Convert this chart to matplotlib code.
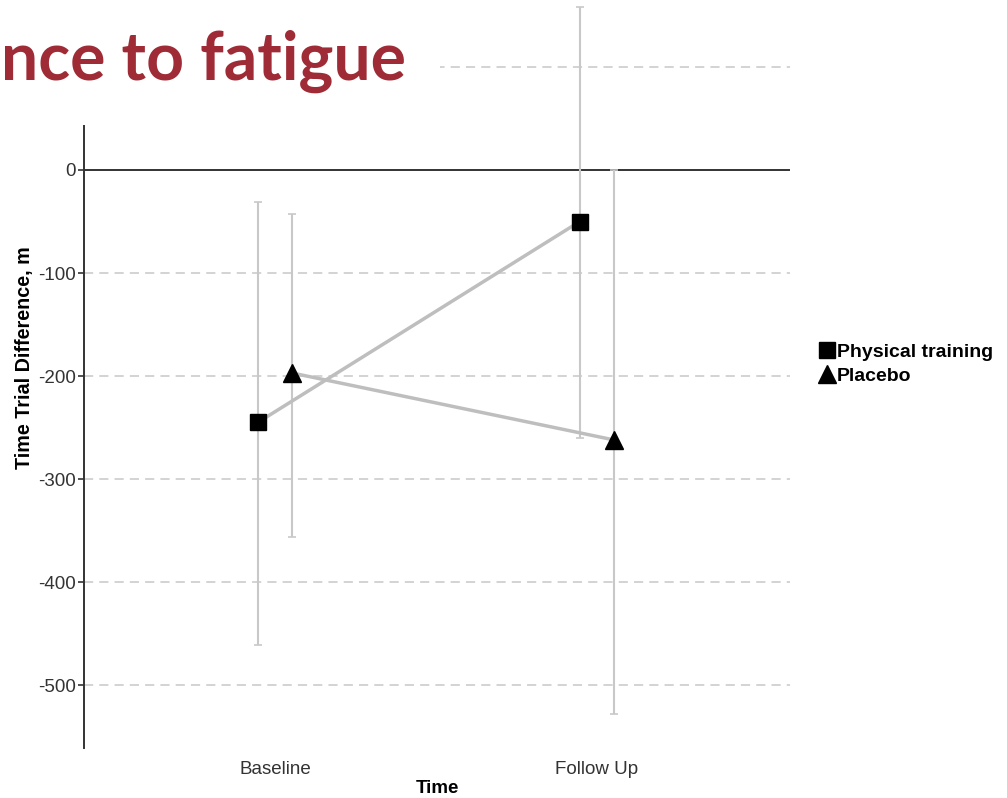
import matplotlib
matplotlib.use("Agg")
import matplotlib.pyplot as plt
from matplotlib.patches import Rectangle
from matplotlib.lines import Line2D
import numpy as np

# ---- data ----
categories = ["Baseline", "Follow Up"]
groups = ["Physical training", "Placebo"]
pt_mean = [-245, -50]
pt_low = [-461, -260]
pt_high = [-31, 158]
pl_mean = [-197, -262]
pl_low = [-356, -528]
pl_high = [-43, 0]
yticks = [-500, -400, -300, -200, -100, 0]
grid_vals = [-500, -400, -300, -200, -100, 100]

W, H = 1007, 798
fig = plt.figure(figsize=(W / 100, H / 100), dpi=100)
plt.rcParams['font.family'] = ['Liberation Sans', 'DejaVu Sans']

ax = fig.add_axes([84 / W, (H - 748) / H, 706 / W, 748 / H])
ax.set_xlim(0.407, 2.6)
ax.set_ylim(-561, 165)

x = np.arange(1, len(categories) + 1)
dodge = 0.053

for vals in grid_vals:
    ax.axhline(vals, color="#C8C8C8", lw=1.1, ls=(0, (6, 4)), zorder=1)
ax.axhline(0, color="#333333", lw=1.4, zorder=2)

series = [
    (pt_mean, pt_low, pt_high, -dodge, "s", 11.5),
    (pl_mean, pl_low, pl_high, dodge, "^", 13.5),
]
for mean, low, high, off, mk, ms in series:
    xs = x + off
    mean = np.array(mean)
    yerr = [mean - np.array(low), np.array(high) - mean]
    ax.errorbar(xs, mean, yerr=yerr, fmt="none", ecolor="#C8C8C8",
                elinewidth=1.5, capsize=3, capthick=1.2, zorder=3)
    ax.plot(xs, mean, color="#BEBEBE", lw=2.5, zorder=4)
    ax.plot(xs, mean, ls="none", marker=mk, ms=ms, color="black", zorder=5)

for s in ["top", "right", "bottom"]:
    ax.spines[s].set_visible(False)
ax.spines["left"].set_color("#333333")
ax.spines["left"].set_linewidth(1.4)

ax.set_yticks(yticks)
ax.set_yticklabels([str(v) for v in yticks])
ax.set_xticks(x)
ax.set_xticklabels(categories)
ax.tick_params(axis="y", length=4, width=1.2, color="#333333",
               labelsize=13.5, labelcolor="#333333", pad=2)
ax.tick_params(axis="x", length=0, labelsize=13.5, labelcolor="#333333", pad=9)

ax.set_xlabel("Time", fontsize=13.5, fontweight="bold", labelpad=2)
ax.set_ylabel("Time Trial Difference, m", fontsize=14.2, fontweight="bold")
ax.yaxis.set_label_coords(-50 / 706, (748 - 358) / 748)

handles = [Line2D([], [], ls="none", marker="s", ms=11.5, color="black"),
           Line2D([], [], ls="none", marker="^", ms=13.5, color="black")]
fig.legend(handles, groups, loc="center left",
           bbox_to_anchor=(802 / W, 1 - 364 / H), frameon=False,
           handlelength=0.8, handletextpad=0.1, labelspacing=0.3,
           prop={"weight": "bold", "size": 14})

# slide title box overlapping the chart
fig.add_artist(Rectangle((0, 1 - 125 / H), 440 / W, 125 / H,
                         transform=fig.transFigure, facecolor="white",
                         edgecolor="none", zorder=10))
fig.text(1 / W, 1 - 80 / H, "nce to fatigue", ha="left", va="baseline",
         fontsize=47.5, fontweight="bold", color="#9E2B35",
         family=["Lato", "DejaVu Sans"], zorder=11)

fig.savefig("out.png", dpi=100)
